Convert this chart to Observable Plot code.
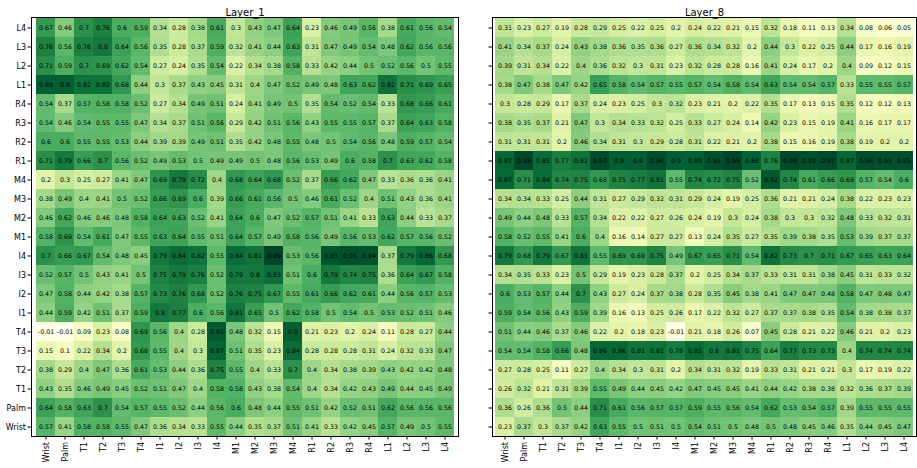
<!DOCTYPE html>
<html>
<head>
<meta charset="utf-8">
<script src="https://cdn.jsdelivr.net/npm/d3@7"></script>
<script src="https://cdn.jsdelivr.net/npm/@observablehq/plot@0.6"></script>
<style>
  body { margin: 0; background: #fff; }
  #wrap { position: relative; width: 917px; height: 468px; overflow: hidden; }
  #wrap svg { position: absolute; top: 0; }
</style>
</head>
<body>
<div id="wrap"></div>
<script>
const xLabels = ["Wrist","Palm","T1","T2","T3","T4","I1","I2","I3","I4","M1","M2","M3","M4","R1","R2","R3","R4","L1","L2","L3","L4"];
const yLabels = ["L4","L3","L2","L1","R4","R3","R2","R1","M4","M3","M2","M1","I4","I3","I2","I1","T4","T3","T2","T1","Palm","Wrist"];
const titles = ["Layer_1", "Layer_8"];

// rows follow yLabels order, columns follow xLabels order
const layer1 = [
  [0.67,0.46,0.7,0.76,0.6,0.59,0.34,0.28,0.38,0.61,0.3,0.43,0.47,0.64,0.23,0.46,0.49,0.56,0.38,0.61,0.56,0.54],
  [0.76,0.56,0.76,0.8,0.64,0.56,0.35,0.28,0.37,0.59,0.32,0.41,0.44,0.63,0.31,0.47,0.49,0.54,0.48,0.62,0.56,0.56],
  [0.71,0.59,0.7,0.69,0.62,0.54,0.27,0.24,0.35,0.54,0.22,0.34,0.38,0.58,0.33,0.42,0.44,0.5,0.52,0.56,0.5,0.55],
  [0.89,0.9,0.82,0.82,0.68,0.44,0.3,0.37,0.43,0.45,0.31,0.4,0.47,0.52,0.49,0.48,0.63,0.62,0.82,0.71,0.69,0.65],
  [0.54,0.37,0.57,0.58,0.58,0.52,0.27,0.34,0.49,0.51,0.24,0.41,0.49,0.5,0.35,0.54,0.52,0.54,0.33,0.68,0.66,0.61],
  [0.54,0.46,0.54,0.55,0.55,0.47,0.34,0.37,0.51,0.56,0.29,0.42,0.51,0.56,0.43,0.55,0.55,0.57,0.37,0.64,0.63,0.58],
  [0.6,0.6,0.55,0.55,0.53,0.44,0.39,0.39,0.49,0.51,0.35,0.42,0.48,0.55,0.48,0.5,0.54,0.56,0.48,0.59,0.57,0.54],
  [0.71,0.79,0.66,0.7,0.56,0.52,0.49,0.53,0.5,0.49,0.49,0.5,0.48,0.56,0.53,0.49,0.6,0.58,0.7,0.63,0.62,0.58],
  [0.2,0.3,0.25,0.27,0.41,0.47,0.69,0.79,0.72,0.4,0.68,0.64,0.68,0.52,0.37,0.66,0.62,0.47,0.33,0.36,0.36,0.41],
  [0.38,0.49,0.4,0.41,0.5,0.52,0.66,0.69,0.6,0.39,0.66,0.61,0.56,0.5,0.46,0.61,0.52,0.4,0.51,0.43,0.36,0.41],
  [0.46,0.62,0.46,0.46,0.48,0.58,0.64,0.63,0.52,0.41,0.64,0.6,0.47,0.52,0.57,0.51,0.41,0.33,0.63,0.44,0.33,0.37],
  [0.58,0.69,0.54,0.61,0.47,0.55,0.63,0.64,0.55,0.51,0.64,0.57,0.49,0.58,0.56,0.49,0.56,0.53,0.62,0.57,0.56,0.52],
  [0.7,0.66,0.67,0.54,0.48,0.45,0.79,0.84,0.82,0.55,0.84,0.81,0.99,0.53,0.56,0.93,0.95,0.94,0.37,0.79,0.86,0.68],
  [0.52,0.57,0.5,0.43,0.41,0.5,0.75,0.79,0.76,0.52,0.79,0.8,0.83,0.51,0.6,0.79,0.74,0.75,0.36,0.64,0.67,0.58],
  [0.47,0.58,0.44,0.42,0.38,0.57,0.73,0.76,0.68,0.52,0.76,0.75,0.67,0.55,0.61,0.66,0.62,0.61,0.44,0.56,0.57,0.53],
  [0.44,0.59,0.42,0.51,0.37,0.59,0.8,0.77,0.6,0.56,0.81,0.65,0.5,0.62,0.58,0.5,0.54,0.5,0.53,0.52,0.51,0.46],
  [-0.01,-0.01,0.09,0.23,0.08,0.69,0.56,0.4,0.28,0.91,0.48,0.32,0.15,0.9,0.21,0.23,0.2,0.24,0.11,0.28,0.27,0.44],
  [0.15,0.1,0.22,0.34,0.2,0.68,0.55,0.4,0.3,0.87,0.51,0.35,0.23,0.84,0.28,0.28,0.28,0.31,0.24,0.32,0.33,0.47],
  [0.38,0.29,0.4,0.47,0.36,0.61,0.53,0.44,0.36,0.75,0.55,0.4,0.33,0.7,0.4,0.34,0.38,0.39,0.43,0.42,0.42,0.48],
  [0.43,0.35,0.46,0.49,0.45,0.52,0.51,0.47,0.4,0.58,0.58,0.43,0.38,0.54,0.4,0.34,0.42,0.43,0.49,0.44,0.45,0.49],
  [0.64,0.58,0.63,0.7,0.54,0.57,0.55,0.52,0.44,0.56,0.6,0.48,0.44,0.55,0.51,0.42,0.52,0.51,0.62,0.56,0.56,0.56],
  [0.57,0.41,0.58,0.58,0.55,0.47,0.36,0.34,0.33,0.55,0.44,0.35,0.37,0.51,0.41,0.33,0.42,0.45,0.57,0.49,0.5,0.55]
];

const layer8 = [
  [0.31,0.23,0.27,0.19,0.28,0.29,0.25,0.22,0.25,0.2,0.24,0.22,0.21,0.15,0.32,0.18,0.11,0.13,0.34,0.08,0.06,0.05],
  [0.41,0.34,0.37,0.24,0.43,0.38,0.36,0.35,0.36,0.27,0.36,0.34,0.32,0.2,0.44,0.3,0.22,0.25,0.44,0.17,0.16,0.19],
  [0.39,0.31,0.34,0.22,0.4,0.36,0.32,0.3,0.31,0.23,0.32,0.28,0.28,0.16,0.41,0.24,0.17,0.2,0.4,0.09,0.12,0.15],
  [0.38,0.47,0.38,0.47,0.42,0.65,0.58,0.54,0.57,0.55,0.57,0.54,0.58,0.54,0.63,0.54,0.54,0.57,0.33,0.55,0.55,0.57],
  [0.3,0.28,0.29,0.17,0.37,0.24,0.23,0.25,0.3,0.32,0.23,0.21,0.2,0.22,0.35,0.17,0.13,0.15,0.35,0.12,0.12,0.13],
  [0.38,0.35,0.37,0.21,0.47,0.3,0.34,0.33,0.32,0.25,0.33,0.27,0.24,0.14,0.42,0.23,0.15,0.19,0.41,0.16,0.17,0.17],
  [0.31,0.31,0.31,0.2,0.46,0.34,0.31,0.3,0.29,0.28,0.31,0.22,0.21,0.2,0.38,0.15,0.16,0.19,0.38,0.19,0.2,0.2],
  [0.87,0.98,0.85,0.77,0.82,0.97,0.9,0.9,0.96,0.9,0.89,0.95,0.99,0.88,0.76,0.98,0.95,0.97,0.87,0.96,0.95,0.95],
  [0.87,0.71,0.84,0.74,0.75,0.68,0.75,0.77,0.81,0.55,0.74,0.72,0.75,0.52,0.92,0.74,0.61,0.66,0.69,0.57,0.54,0.6],
  [0.34,0.34,0.33,0.25,0.44,0.31,0.27,0.29,0.32,0.31,0.29,0.24,0.19,0.25,0.36,0.21,0.21,0.24,0.38,0.22,0.23,0.23],
  [0.49,0.44,0.48,0.33,0.57,0.34,0.22,0.22,0.27,0.26,0.24,0.19,0.3,0.24,0.38,0.3,0.3,0.32,0.48,0.33,0.32,0.31],
  [0.58,0.52,0.55,0.41,0.6,0.4,0.16,0.14,0.27,0.27,0.13,0.24,0.35,0.27,0.35,0.39,0.38,0.35,0.53,0.39,0.37,0.37],
  [0.79,0.68,0.79,0.67,0.81,0.55,0.69,0.69,0.75,0.49,0.67,0.65,0.71,0.54,0.82,0.73,0.7,0.71,0.67,0.65,0.63,0.64],
  [0.34,0.35,0.33,0.23,0.5,0.29,0.19,0.23,0.28,0.37,0.2,0.25,0.34,0.37,0.33,0.31,0.31,0.38,0.45,0.31,0.33,0.32],
  [0.6,0.53,0.57,0.44,0.7,0.43,0.27,0.24,0.37,0.38,0.28,0.35,0.45,0.38,0.41,0.47,0.47,0.48,0.58,0.47,0.48,0.47],
  [0.59,0.54,0.56,0.43,0.59,0.39,0.16,0.13,0.25,0.26,0.17,0.22,0.32,0.27,0.37,0.37,0.38,0.35,0.54,0.38,0.38,0.37],
  [0.51,0.44,0.46,0.37,0.46,0.22,0.2,0.18,0.23,-0.01,0.21,0.18,0.26,0.07,0.45,0.28,0.21,0.22,0.46,0.21,0.2,0.23],
  [0.54,0.54,0.58,0.66,0.48,0.86,0.86,0.81,0.82,0.78,0.85,0.8,0.81,0.75,0.64,0.77,0.73,0.73,0.4,0.74,0.74,0.74],
  [0.27,0.28,0.25,0.11,0.27,0.4,0.34,0.3,0.31,0.2,0.34,0.31,0.32,0.19,0.33,0.31,0.21,0.21,0.3,0.17,0.19,0.22],
  [0.26,0.32,0.21,0.31,0.39,0.55,0.49,0.44,0.45,0.42,0.47,0.45,0.45,0.41,0.44,0.42,0.38,0.38,0.32,0.36,0.37,0.39],
  [0.36,0.26,0.36,0.5,0.44,0.71,0.61,0.56,0.57,0.57,0.59,0.55,0.56,0.54,0.62,0.53,0.54,0.57,0.39,0.55,0.55,0.55],
  [0.23,0.37,0.3,0.37,0.42,0.63,0.55,0.5,0.51,0.5,0.54,0.51,0.5,0.48,0.5,0.48,0.45,0.46,0.35,0.44,0.45,0.47]
];

function toRows(matrix) {
  const out = [];
  matrix.forEach((row, i) => row.forEach((v, j) => out.push({ y: yLabels[i], x: xLabels[j], v })));
  return out;
}

function heat(matrix, title, opts) {
  const data = toRows(matrix);
  const svg = Plot.plot({
    width: opts.width,
    height: 468,
    marginLeft: opts.marginLeft,
    marginRight: opts.marginRight,
    marginTop: 17,
    marginBottom: 32,
    style: { fontFamily: "'DejaVu Sans', sans-serif", fontSize: "8px", color: "#000", background: "transparent" },
    x: { domain: xLabels, padding: 0, label: null, tickRotate: -90, tickSize: 3.5, tickPadding: 2 },
    y: { domain: yLabels, padding: 0, label: null, tickSize: 3.5, tickPadding: 2,
         tickFormat: opts.showY ? (d => d) : (() => "") },
    color: { type: "linear", scheme: "YlGn", domain: [-0.01, 0.99] },
    marks: [
      Plot.cell(data, { x: "x", y: "y", fill: "v", shapeRendering: "crispEdges" }),
      Plot.text(data, { x: "x", y: "y", text: d => String(d.v), fill: "#000", fontSize: 6.3 }),
      Plot.frame({ stroke: "#000", strokeWidth: 1 }),
      Plot.text([title], { frameAnchor: "top", dy: -9, fontSize: 10, fill: "#000" })
    ]
  });
  svg.style.left = opts.left + "px";
  return svg;
}

const wrap = document.getElementById("wrap");
wrap.appendChild(heat(layer1, titles[0], { width: 460, left: 0, marginLeft: 31, marginRight: 2, showY: true }));
wrap.appendChild(heat(layer8, titles[1], { width: 459, left: 458, marginLeft: 34, marginRight: 1, showY: false }));
</script>
</body>
</html>
